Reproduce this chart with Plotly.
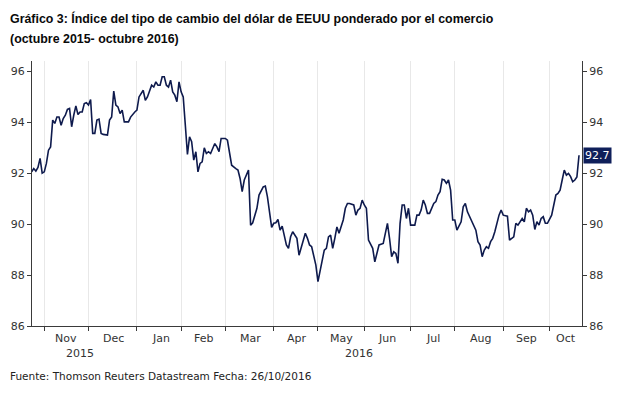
import plotly.graph_objects as go

dates = [
"2015-10-23","2015-10-26","2015-10-27","2015-10-28","2015-10-29","2015-10-30",
"2015-11-02","2015-11-03","2015-11-04","2015-11-05","2015-11-06","2015-11-09","2015-11-10","2015-11-11",
"2015-11-12","2015-11-13","2015-11-16","2015-11-17","2015-11-18","2015-11-19","2015-11-20","2015-11-23",
"2015-11-24","2015-11-25","2015-11-26","2015-11-27","2015-11-30",
"2015-12-01","2015-12-02","2015-12-03","2015-12-04","2015-12-07","2015-12-08","2015-12-09","2015-12-10",
"2015-12-14","2015-12-15","2015-12-16","2015-12-17","2015-12-18","2015-12-21","2015-12-22","2015-12-23",
"2015-12-24","2015-12-28","2015-12-29","2015-12-31",
"2016-01-01","2016-01-04","2016-01-06","2016-01-07","2016-01-08","2016-01-12","2016-01-13","2016-01-14",
"2016-01-15","2016-01-18","2016-01-19","2016-01-20","2016-01-21","2016-01-22","2016-01-25","2016-01-26",
"2016-01-27","2016-01-28","2016-01-29",
"2016-02-01","2016-02-02","2016-02-03","2016-02-04","2016-02-05","2016-02-08","2016-02-09","2016-02-10",
"2016-02-11","2016-02-12","2016-02-15","2016-02-16","2016-02-17","2016-02-18","2016-02-19","2016-02-23",
"2016-02-24","2016-02-25","2016-02-26",
"2016-03-01","2016-03-02","2016-03-04","2016-03-08","2016-03-09","2016-03-10","2016-03-11","2016-03-14",
"2016-03-16","2016-03-17","2016-03-18","2016-03-22","2016-03-23","2016-03-25","2016-03-28","2016-03-29",
"2016-03-30","2016-03-31",
"2016-04-01","2016-04-04","2016-04-05","2016-04-06","2016-04-07","2016-04-08","2016-04-11","2016-04-12",
"2016-04-13","2016-04-14","2016-04-18","2016-04-19","2016-04-22","2016-04-25","2016-04-26","2016-04-27",
"2016-04-29",
"2016-05-02","2016-05-03","2016-05-04","2016-05-05","2016-05-06","2016-05-09","2016-05-10","2016-05-11",
"2016-05-12","2016-05-13","2016-05-16","2016-05-18","2016-05-19","2016-05-20","2016-05-23","2016-05-25",
"2016-05-26","2016-05-27","2016-05-30","2016-05-31",
"2016-06-01","2016-06-02","2016-06-03","2016-06-07","2016-06-08","2016-06-09","2016-06-10","2016-06-14",
"2016-06-15","2016-06-16","2016-06-17","2016-06-20","2016-06-21","2016-06-22","2016-06-23","2016-06-24",
"2016-06-27","2016-06-28","2016-06-29","2016-06-30",
"2016-07-01","2016-07-05","2016-07-06","2016-07-07","2016-07-08","2016-07-11","2016-07-12","2016-07-13",
"2016-07-14","2016-07-18","2016-07-19","2016-07-20","2016-07-21","2016-07-22","2016-07-25","2016-07-26",
"2016-07-27","2016-07-28","2016-07-29",
"2016-08-01","2016-08-02","2016-08-03","2016-08-04","2016-08-05","2016-08-08","2016-08-09","2016-08-11",
"2016-08-12","2016-08-15","2016-08-16","2016-08-17","2016-08-18","2016-08-19","2016-08-22","2016-08-23",
"2016-08-24","2016-08-25","2016-08-26","2016-08-30","2016-08-31",
"2016-09-01","2016-09-05","2016-09-06","2016-09-08","2016-09-09","2016-09-12","2016-09-13","2016-09-14",
"2016-09-15","2016-09-16","2016-09-19","2016-09-20","2016-09-21","2016-09-22","2016-09-23","2016-09-26",
"2016-09-27","2016-09-28","2016-09-29","2016-09-30",
"2016-10-04","2016-10-05","2016-10-06","2016-10-07","2016-10-10","2016-10-11","2016-10-12","2016-10-13",
"2016-10-14","2016-10-17","2016-10-18","2016-10-19","2016-10-20","2016-10-21",
]

values = [
92.05,92.18,92.08,92.22,92.58,92.00,
92.05,92.38,92.90,93.03,94.08,93.95,94.20,94.20,
93.88,94.14,94.27,94.50,94.54,93.82,94.27,94.64,
94.30,94.40,94.40,94.73,94.76,
94.67,94.89,93.56,93.56,94.08,94.12,93.56,93.52,
93.49,94.08,94.20,95.22,94.67,94.60,94.34,94.47,
94.01,94.01,94.20,94.40,
94.47,94.99,95.25,94.86,94.99,95.45,95.38,95.58,
95.45,95.45,95.78,95.78,95.45,95.38,95.65,95.19,
95.06,94.80,95.58,
95.19,94.99,93.88,92.73,93.42,93.23,92.51,92.84,
92.05,92.38,92.44,92.99,92.77,92.84,92.77,93.16,
93.03,92.84,93.36,
93.36,93.29,92.31,92.18,92.12,91.79,91.27,91.73,
92.12,89.96,90.05,90.62,91.14,91.46,91.49,91.07,
90.55,89.87,
90.03,90.05,90.18,89.76,89.92,89.50,89.18,89.05,
89.50,89.70,89.44,88.78,89.64,89.44,89.18,89.11,
88.39,
87.74,88.13,88.65,88.98,89.05,89.50,89.57,89.05,
89.44,89.89,89.64,90.16,90.62,90.81,90.81,90.75,
90.35,90.55,90.62,90.94,
90.75,90.62,89.37,89.05,88.52,88.91,89.18,89.24,
89.64,90.03,89.44,88.72,88.91,88.85,88.46,90.03,
90.75,90.75,90.22,90.62,
89.96,89.96,90.35,90.35,90.55,90.94,90.75,90.42,
90.42,90.81,90.88,91.14,91.27,91.76,91.73,91.60,
91.73,91.33,90.16,
90.16,89.76,89.96,90.09,90.68,90.81,90.48,90.09,
89.96,89.76,89.31,89.18,88.72,88.98,89.11,89.05,
89.31,89.44,89.70,90.35,90.55,
90.35,90.31,89.37,89.50,90.03,89.96,90.09,90.22,
90.09,90.62,90.48,90.55,90.35,89.79,90.09,89.96,
90.22,90.29,90.03,90.03,
90.35,90.75,91.14,91.20,91.33,91.73,92.12,91.92,
91.99,91.86,91.66,91.73,91.85,92.70,
]

month_starts = ["2015-11-02","2015-12-01","2016-01-01","2016-02-01","2016-03-01","2016-04-01",
                "2016-05-02","2016-06-01","2016-07-01","2016-08-01","2016-09-01","2016-10-03"]
month_label_dates = ["2015-11-16 12:00","2015-12-17","2016-01-18 12:00","2016-02-15 12:00","2016-03-17",
                     "2016-04-18","2016-05-17","2016-06-16","2016-07-15 12:00","2016-08-17","2016-09-16","2016-10-13"]
month_labels = ["Nov","Dec","Jan","Feb","Mar","Apr","May","Jun","Jul","Aug","Sep","Oct"]
year_label_dates = ["2015-11-25","2016-05-27 14:00"]
year_labels = ["2015","2016"]
y_ticks = [86, 88, 90, 92, 94, 96]

title_1 = "Gráfico 3: Índice del tipo de cambio del dólar de EEUU ponderado por el comercio"
title_2 = "(octubre 2015- octubre 2016)"
source = "Fuente: Thomson Reuters Datastream Fecha: 26/10/2016"

LINE = "#0e1a4d"
AX = "#3a3a3a"
TICKFONT = dict(family="DejaVu Sans", size=11, color="#333333")
TITLEFONT = dict(family="Liberation Sans, Arial", size=12.4, color="#0a0a0a")

fig = go.Figure()
fig.add_trace(go.Scatter(x=dates, y=values, mode="lines",
                         line=dict(color=LINE, width=1.6), hoverinfo="skip", showlegend=False))
fig.add_trace(go.Scatter(x=dates, y=values, mode="lines", yaxis="y2",
                         line=dict(color="rgba(0,0,0,0)", width=0), hoverinfo="skip", showlegend=False))

W, H = 624, 395
L, R, T, B = 32, 42, 61, 69
ph = H - T - B

def py(Y):
    return (H - B - Y) / ph

fig.update_layout(
    width=W, height=H,
    margin=dict(l=L, r=R, t=T, b=B),
    paper_bgcolor="white", plot_bgcolor="white",
    hovermode=False,
    xaxis=dict(type="date", range=["2015-10-23 04:00", "2016-10-24 10:00"],
               rangebreaks=[dict(bounds=["sat", "mon"])],
               tickmode="array", tickvals=month_starts, showticklabels=False,
               ticks="outside", ticklen=4, tickcolor=AX, tickwidth=1,
               showgrid=True, gridcolor="#e8e8e8", gridwidth=1,
               showline=True, linecolor=AX, linewidth=1, zeroline=False, fixedrange=True),
    yaxis=dict(range=[86, 96.4], tickmode="array", tickvals=y_ticks,
               ticks="outside", ticklen=4, tickcolor=AX, tickfont=TICKFONT,
               showgrid=False, showline=True, linecolor=AX, linewidth=1, zeroline=False, fixedrange=True),
    yaxis2=dict(range=[86, 96.4], overlaying="y", side="right", tickmode="array", tickvals=y_ticks,
                ticks="outside", ticklen=4, tickcolor=AX, tickfont=TICKFONT,
                showgrid=False, showline=True, linecolor=AX, linewidth=1, zeroline=False, fixedrange=True),
)

ann = []
for d, t in zip(month_label_dates, month_labels):
    ann.append(dict(x=d, y=py(338.5), xref="x", yref="paper", text=t, showarrow=False,
                    xanchor="center", yanchor="middle", font=TICKFONT))
for d, t in zip(year_label_dates, year_labels):
    ann.append(dict(x=d, y=py(353.5), xref="x", yref="paper", text=t, showarrow=False,
                    xanchor="center", yanchor="middle", font=TICKFONT))
ann.append(dict(x=0, y=py(18), xref="paper", yref="paper", xshift=-L + 8, text="<b>" + title_1 + "</b>",
                showarrow=False, xanchor="left", yanchor="middle", font=TITLEFONT))
ann.append(dict(x=0, y=py(39), xref="paper", yref="paper", xshift=-L + 8, text="<b>" + title_2 + "</b>",
                showarrow=False, xanchor="left", yanchor="middle", font=TITLEFONT))
ann.append(dict(x=0, y=py(376), xref="paper", yref="paper", xshift=-L + 8, text=source,
                showarrow=False, xanchor="left", yanchor="middle",
                font=dict(family="DejaVu Sans", size=10.5, color="#222222")))
ann.append(dict(x=1, y=values[-1], xref="paper", yref="y", xshift=1, text="%.1f" % values[-1],
                showarrow=False, xanchor="left", yanchor="middle", bgcolor="#0f1f5a", borderpad=1,
                font=dict(family="DejaVu Sans", size=11, color="white")))
fig.update_layout(annotations=ann)

fig.write_html("out.html", config={"displayModeBar": False, "staticPlot": True},
               post_script="document.body.style.margin='0';document.body.style.overflow='hidden';")
